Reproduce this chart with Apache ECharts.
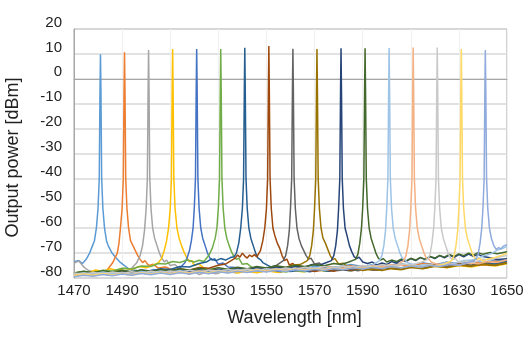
<!DOCTYPE html>
<html><head><meta charset="utf-8">
<script src="https://cdn.jsdelivr.net/npm/echarts@6/dist/echarts.min.js"></script>
<style>html,body{margin:0;padding:0;background:#fff}#c{width:526px;height:346px}</style>
</head><body><div id="c"></div>
<script>
const xTicks = [1470,1490,1510,1530,1550,1570,1590,1610,1630,1650];
const yTicks = [-80,-70,-60,-50,-40,-30,-20,-10,0,10,20];
const colors = ['#5B9BD5','#ED7D31','#A5A5A5','#FFC000','#4472C4','#70AD47','#255E91','#9E480E','#636363','#997300','#264478','#43682B','#9DC3E6','#F4B183','#C9C9C9','#FFD966','#8FAADC'];

const s1481 = [[1470,-73.5],[1472,-73],[1473.5,-74.2],[1475,-72.6],[1476.5,-70],[1477.5,-67.5],[1478.5,-65],[1479.3,-60],[1480,-52],[1480.5,-40],[1480.8,-5],[1481,9.9],[1481.2,-5],[1481.5,-40],[1482,-52],[1482.7,-60],[1483.5,-65],[1484.2,-67],[1485,-68.5],[1485.8,-70],[1486.5,-69.5],[1487.5,-72],[1489,-73.5],[1491,-75],[1493,-76.5],[1496,-77],[1500,-77.8],[1503,-76.6],[1506,-77.5],[1509,-76.8],[1512,-78],[1515,-77],[1518,-77.8],[1521,-76.7],[1525,-77.4],[1530,-76.5],[1535,-77.2],[1540,-76.3],[1545,-77],[1550,-75.8],[1555,-76.6],[1560,-75.9],[1565,-76.5],[1570,-75.3],[1575,-76.1],[1580,-75.5],[1585,-74.6],[1590,-75.4],[1595,-74.5],[1600,-75.2],[1605,-74.2],[1610,-74.9],[1615,-73.9],[1620,-74.7],[1625,-73.6],[1630,-74.3],[1635,-73.2],[1640,-73.8],[1645,-72.8],[1650,-73.2]];
const s1491 = [[1470,-78.5],[1473,-77.6],[1476,-78.3],[1479,-77.2],[1482,-77.9],[1484,-76.5],[1486,-74],[1487,-72],[1488,-70],[1488.7,-66],[1489.3,-60],[1490,-52],[1490.5,-40],[1490.8,-5],[1491,10.7],[1491.2,-5],[1491.5,-40],[1492,-52],[1492.7,-60],[1493.5,-65],[1494.5,-67],[1495.5,-69],[1496.5,-71],[1497.5,-72.5],[1498.5,-73.8],[1499.5,-73],[1501,-75],[1503,-74.5],[1505,-76],[1508,-75.6],[1511,-76.8],[1514,-76.2],[1517,-77.3],[1520,-76.6],[1524,-77.5],[1528,-76.8],[1532,-77.4],[1536,-76.4],[1540,-77],[1545,-76.2],[1550,-76.9],[1555,-75.9],[1560,-76.5],[1565,-75.7],[1570,-76.3],[1575,-75.4],[1580,-76],[1585,-75.1],[1590,-75.7],[1595,-74.8],[1600,-75.5],[1605,-74.6],[1610,-75.1],[1615,-74.2],[1620,-74.8],[1625,-73.9],[1630,-74.6],[1635,-73.7],[1640,-74.2],[1645,-73.3],[1650,-73.6]];
const s1501 = [[1470,-74],[1472,-73.2],[1474,-75.5],[1476,-77],[1479,-77.8],[1482,-77],[1485,-78],[1488,-77.2],[1491,-77.6],[1494,-76],[1496,-74],[1497.5,-71],[1498.5,-67],[1499.3,-61],[1500,-52],[1500.5,-40],[1500.8,-5],[1501,11.6],[1501.2,-5],[1501.5,-40],[1502,-52],[1502.7,-60],[1503.5,-64],[1504.5,-67],[1505.5,-70],[1506.5,-72],[1507.5,-73.5],[1508.5,-72.8],[1510,-75],[1512,-74.6],[1514,-76.5],[1516,-77.5],[1518,-78.5],[1520,-77.4],[1522,-78.6],[1525,-77.6],[1529,-78.3],[1533,-77.2],[1537,-77.9],[1541,-77],[1545,-77.8],[1550,-76.8],[1555,-77.5],[1560,-76.6],[1565,-77.2],[1570,-76.3],[1575,-77],[1580,-76.1],[1585,-76.8],[1590,-75.8],[1595,-76.4],[1600,-75.6],[1605,-76.2],[1610,-75.2],[1615,-75.8],[1620,-74.8],[1625,-75.4],[1630,-74.6],[1635,-75.2],[1640,-74.2],[1645,-74.8],[1650,-73.8]];
const s1511 = [[1470,-78.5],[1473,-77.6],[1476,-77.9],[1479,-76.8],[1482,-77.4],[1485,-76.3],[1488,-77],[1491,-76.1],[1494,-76.6],[1497,-75.4],[1500,-75.9],[1503,-74.8],[1505,-74],[1506.5,-72],[1507.5,-69],[1508.5,-65],[1509.3,-60],[1510,-52],[1510.5,-40],[1510.8,-5],[1511,12],[1511.2,-5],[1511.5,-40],[1512,-52],[1512.8,-60],[1513.7,-64],[1514.7,-67],[1515.7,-69.5],[1516.7,-71.5],[1518,-73.5],[1519,-73],[1520,-75],[1522,-74.4],[1524,-76],[1527,-76.6],[1530,-77.6],[1534,-76.9],[1538,-78],[1542,-77.2],[1546,-77.9],[1550,-77.1],[1555,-77.8],[1560,-76.9],[1565,-77.5],[1570,-76.7],[1575,-77.3],[1580,-76.5],[1585,-77.1],[1590,-76.2],[1595,-76.9],[1600,-76],[1605,-76.6],[1610,-75.6],[1615,-76.2],[1620,-75.3],[1625,-75.9],[1630,-75],[1635,-75.6],[1640,-74.7],[1645,-75.2],[1650,-74.3]];
const s1521 = [[1470,-79],[1473,-78.2],[1476,-78.8],[1480,-78.1],[1484,-78.7],[1488,-77.9],[1492,-78.5],[1496,-77.6],[1500,-78.2],[1503,-77.1],[1506,-77.7],[1509,-76.6],[1512,-77],[1514,-76],[1516,-74],[1517,-72],[1518,-69],[1518.8,-65],[1519.5,-60],[1520,-52],[1520.5,-40],[1520.8,-5],[1521,12],[1521.2,-5],[1521.5,-40],[1522,-52],[1522.7,-60],[1523.5,-64],[1524.5,-67],[1525.5,-70],[1526.5,-72],[1527.5,-72.8],[1528.5,-72.2],[1530,-74.5],[1532,-74],[1534,-75.6],[1537,-75.8],[1540,-76.9],[1544,-76.3],[1548,-77.4],[1552,-76.7],[1556,-77.5],[1560,-76.8],[1565,-77.3],[1570,-76.5],[1575,-77.1],[1580,-76.2],[1585,-76.9],[1590,-76],[1595,-76.6],[1600,-75.7],[1605,-76.2],[1610,-75.3],[1615,-75.9],[1620,-75],[1625,-75.6],[1630,-74.6],[1635,-75.2],[1640,-74.3],[1645,-74.8],[1650,-73.8]];
const s1531 = [[1470,-78],[1474,-77.4],[1478,-77.9],[1482,-76.9],[1486,-77.2],[1490,-76.1],[1494,-76.4],[1498,-75.2],[1502,-75.4],[1505,-74.2],[1508,-74.4],[1511,-73.4],[1514,-73.8],[1517,-72.8],[1520,-73.6],[1522,-72.9],[1524,-73.4],[1526,-71],[1527.5,-68],[1528.7,-64],[1529.4,-60],[1530,-52],[1530.5,-40],[1530.8,-5],[1531,12],[1531.2,-5],[1531.5,-40],[1532,-52],[1532.7,-60],[1533.5,-64],[1534.5,-67],[1535.5,-69.5],[1536.5,-71.5],[1537.5,-72.5],[1538.5,-72],[1540,-74.5],[1542,-74.2],[1544,-75.8],[1547,-76.2],[1550,-77.1],[1554,-76.6],[1558,-77.6],[1562,-76.9],[1566,-77.5],[1570,-76.7],[1575,-77.2],[1580,-76.4],[1585,-77],[1590,-76.1],[1595,-76.7],[1600,-75.8],[1605,-76.3],[1610,-75.3],[1615,-75.9],[1620,-74.9],[1625,-75.4],[1630,-74.4],[1635,-75],[1640,-74],[1645,-74.5],[1650,-73.4]];
const s1541 = [[1470,-78.5],[1474,-77.8],[1478,-78.3],[1482,-77.5],[1486,-78],[1490,-77.2],[1494,-77.7],[1498,-76.8],[1502,-77.2],[1506,-76.3],[1510,-76.6],[1514,-75.4],[1518,-75.6],[1522,-74.2],[1525,-73.6],[1527,-72.4],[1529,-73],[1531,-72.2],[1533,-72.8],[1535,-71.8],[1536.5,-71.5],[1537.5,-70],[1538.5,-66],[1539.3,-60],[1540,-52],[1540.5,-40],[1540.8,-5],[1541,12.5],[1541.2,-5],[1541.5,-40],[1542,-52],[1542.7,-60],[1543.5,-64],[1544.5,-67],[1545.5,-70],[1546.5,-72],[1547.5,-72.6],[1548.5,-73.8],[1550,-74.6],[1552,-75.6],[1554,-75.2],[1557,-76.8],[1560,-77.4],[1564,-76.8],[1568,-77.5],[1572,-76.7],[1576,-77.3],[1580,-76.6],[1585,-77.1],[1590,-76.3],[1595,-76.8],[1600,-75.9],[1605,-76.4],[1610,-75.4],[1615,-75.9],[1620,-74.9],[1625,-75.5],[1630,-74.5],[1635,-75],[1640,-74],[1645,-74.4],[1650,-73.3]];
const s1551 = [[1470,-79],[1474,-78.3],[1478,-78.8],[1482,-78],[1486,-78.5],[1490,-77.7],[1494,-78.2],[1498,-77.3],[1502,-77.8],[1506,-76.9],[1510,-77.3],[1514,-76.4],[1518,-76.8],[1522,-75.8],[1526,-76.1],[1530,-74.9],[1533,-74.4],[1535,-73.2],[1537,-72],[1538,-70.8],[1539,-71.6],[1540,-70],[1541,-71.2],[1542,-72],[1543,-70.8],[1544,-71.4],[1545,-70.6],[1546,-71.5],[1547.5,-69],[1548.5,-65],[1549.3,-60],[1550,-52],[1550.5,-40],[1550.8,-5],[1551,13.2],[1551.2,-5],[1551.5,-40],[1552,-52],[1552.7,-60],[1553.5,-63],[1554.5,-66],[1555.5,-68],[1556.5,-71],[1557.5,-73],[1558.5,-72.4],[1559.5,-74.8],[1561,-74.2],[1563,-76],[1566,-76.6],[1570,-77.4],[1574,-76.7],[1578,-77.3],[1582,-76.5],[1586,-77],[1590,-76.2],[1595,-76.8],[1600,-75.8],[1605,-76.3],[1610,-75.3],[1615,-75.8],[1620,-74.8],[1625,-75.3],[1630,-74.4],[1635,-75],[1640,-74.6],[1645,-74.9],[1650,-74]];
const s1561 = [[1470,-78],[1474,-78.6],[1478,-77.9],[1482,-78.5],[1486,-77.6],[1490,-78.1],[1494,-77.3],[1498,-77.8],[1502,-77],[1506,-77.9],[1510,-78.2],[1514,-77.1],[1518,-77.7],[1522,-76.8],[1526,-77.4],[1530,-76.9],[1534,-77.3],[1538,-76.4],[1542,-76.8],[1546,-75.9],[1550,-76.3],[1554,-75],[1557,-73],[1558,-71],[1558.8,-67],[1559.5,-61],[1560,-52],[1560.5,-40],[1560.8,-5],[1561,12.1],[1561.2,-5],[1561.5,-40],[1562,-52],[1562.7,-60],[1563.5,-64],[1564.5,-67],[1565.5,-69],[1566.5,-71],[1567.5,-72.4],[1568.5,-72],[1570,-74.4],[1572,-74],[1574,-75.7],[1577,-76.2],[1580,-77],[1584,-76.3],[1588,-77.1],[1592,-76.2],[1596,-76.8],[1600,-75.9],[1605,-76.4],[1610,-75.4],[1615,-76],[1620,-75],[1625,-75.5],[1630,-74.6],[1635,-75.1],[1640,-74.3],[1645,-74.7],[1650,-73.9]];
const s1571 = [[1470,-78.5],[1474,-77.8],[1478,-78.3],[1482,-77.6],[1486,-78.4],[1490,-77.7],[1494,-78.5],[1498,-77.5],[1502,-78],[1506,-77.2],[1510,-77.7],[1514,-77],[1518,-77.9],[1522,-77.1],[1526,-77.5],[1530,-76.7],[1534,-77.2],[1538,-76.4],[1542,-77],[1546,-76.2],[1550,-76.6],[1554,-75.6],[1558,-75.9],[1561,-74.8],[1564,-74.6],[1567,-73],[1568,-71],[1568.8,-67],[1569.5,-61],[1570,-52],[1570.5,-40],[1570.8,-5],[1571,12],[1571.2,-5],[1571.5,-40],[1572,-52],[1572.7,-60],[1573.5,-64],[1574.5,-66],[1575.5,-68.5],[1576.5,-71],[1577.5,-72.6],[1578.5,-72.2],[1580,-74.4],[1582,-74.1],[1584,-75.8],[1587,-76.1],[1590,-77],[1594,-76.4],[1598,-77],[1602,-76.2],[1606,-76.7],[1610,-75.8],[1615,-76.3],[1620,-75.3],[1625,-75.8],[1630,-74.9],[1635,-75.3],[1640,-74.4],[1645,-74.9],[1650,-73.9]];
const s1581 = [[1470,-79],[1474,-78.3],[1478,-78.8],[1482,-78],[1486,-78.6],[1490,-77.9],[1494,-78.4],[1498,-77.6],[1502,-78.1],[1506,-77.3],[1510,-77.8],[1514,-77],[1518,-77.5],[1522,-76.8],[1526,-77.3],[1530,-76.6],[1534,-77.1],[1538,-76.2],[1542,-76.7],[1546,-75.9],[1550,-76.4],[1554,-75.7],[1558,-76.2],[1562,-75.4],[1566,-75.7],[1569,-74.6],[1572,-74.9],[1575,-73.8],[1577,-73],[1578,-71],[1578.8,-67],[1579.5,-61],[1580,-52],[1580.5,-40],[1580.8,-5],[1581,12.3],[1581.2,-5],[1581.5,-40],[1582,-52],[1582.7,-60],[1583.5,-63],[1584.5,-67],[1585.5,-69.5],[1586.5,-71.5],[1587.5,-72.2],[1588.5,-71.6],[1590,-73.6],[1592,-74.2],[1594,-73.6],[1596,-74.8],[1598,-74],[1600,-74.6],[1602,-73.4],[1604,-74],[1606,-72.8],[1608,-73.4],[1610,-72.2],[1612,-73],[1614,-71.8],[1616,-72.6],[1618,-71.4],[1620,-72.2],[1622,-71],[1624,-71.9],[1626,-70.8],[1628,-71.7],[1630,-70.6],[1632,-71.5],[1634,-70.4],[1636,-71.3],[1638,-70.5],[1640,-71.4],[1643,-71.9],[1646,-72.6],[1650,-72.3]];
const s1591 = [[1470,-78],[1474,-77.3],[1478,-77.9],[1482,-77.1],[1486,-77.7],[1490,-76.9],[1494,-77.6],[1498,-76.8],[1502,-77.5],[1506,-76.6],[1510,-77.1],[1514,-76.3],[1518,-76.9],[1522,-76.1],[1526,-76.7],[1530,-75.9],[1534,-76.5],[1538,-75.7],[1542,-76.3],[1546,-75.4],[1550,-76],[1554,-75.1],[1558,-75.7],[1562,-74.9],[1566,-75.4],[1570,-74.6],[1574,-75.1],[1578,-74.2],[1581,-74.6],[1584,-73.7],[1587,-72.5],[1588,-70.5],[1588.8,-66],[1589.5,-60],[1590,-52],[1590.5,-40],[1590.8,-5],[1591,12.3],[1591.2,-5],[1591.5,-40],[1592,-52],[1592.7,-60],[1593.5,-64],[1594.5,-67],[1595.5,-70],[1596.5,-72],[1597.5,-72.8],[1598.5,-72.2],[1600,-73.6],[1602,-72.8],[1604,-73.4],[1606,-72.4],[1608,-73.1],[1610,-72.1],[1612,-72.8],[1614,-71.7],[1616,-72.5],[1618,-71.3],[1620,-72],[1622,-70.9],[1624,-71.6],[1626,-70.5],[1628,-71.3],[1630,-70.3],[1632,-71],[1634,-70],[1636,-70.8],[1638,-69.8],[1640,-70.5],[1643,-69.8],[1646,-70.3],[1650,-69.5]];
const s1601 = [[1470,-78.5],[1474,-77.9],[1478,-78.4],[1482,-77.6],[1486,-78.3],[1490,-77.8],[1494,-78.4],[1498,-77.4],[1502,-78],[1506,-77.2],[1510,-77.8],[1514,-77],[1518,-77.9],[1522,-77.2],[1526,-77.7],[1530,-76.9],[1534,-77.4],[1538,-76.6],[1542,-77.2],[1546,-76.4],[1550,-77],[1554,-76.2],[1558,-76.8],[1562,-76],[1566,-76.6],[1570,-75.8],[1574,-76.4],[1578,-75.6],[1582,-76.2],[1586,-75.3],[1590,-75.8],[1594,-74.8],[1597,-73],[1598,-71],[1598.8,-67],[1599.5,-61],[1600,-52],[1600.5,-40],[1600.8,-5],[1601,12.4],[1601.2,-5],[1601.5,-40],[1602,-52],[1602.7,-60],[1603.5,-64],[1604.5,-67],[1605.5,-70],[1606.5,-72],[1607.5,-72.6],[1608.5,-73.8],[1610,-74.3],[1613,-75.2],[1616,-74.6],[1620,-75.1],[1624,-74],[1628,-74.2],[1632,-73],[1636,-72.8],[1640,-71.2],[1643,-70.4],[1646,-68.8],[1648,-68.2],[1650,-67.3]];
const s1611 = [[1470,-79],[1474,-78.5],[1478,-79],[1482,-78.3],[1486,-78.8],[1490,-78.1],[1494,-78.7],[1498,-77.9],[1502,-78.5],[1506,-77.7],[1510,-78.2],[1514,-77.4],[1518,-78],[1522,-77.2],[1526,-77.9],[1530,-77.3],[1534,-77.8],[1538,-76.9],[1542,-77.5],[1546,-76.7],[1550,-77.2],[1554,-76.4],[1558,-77],[1562,-76.3],[1566,-76.9],[1570,-76.1],[1574,-76.7],[1578,-75.8],[1582,-76.4],[1586,-75.6],[1590,-76.1],[1594,-75.2],[1598,-75.6],[1601,-74.7],[1604,-75],[1607,-73],[1608,-71],[1608.8,-67],[1609.5,-61],[1610,-52],[1610.5,-40],[1610.8,-5],[1611,12.6],[1611.2,-5],[1611.5,-40],[1612,-52],[1612.7,-60],[1613.5,-64],[1614.5,-67],[1615.5,-70],[1616.5,-72],[1617.5,-72.4],[1618.5,-73.6],[1620,-74.2],[1623,-75.1],[1626,-74.4],[1630,-74.9],[1634,-73.9],[1638,-74.3],[1642,-73.4],[1646,-73.7],[1650,-72.8]];
const s1621 = [[1470,-78],[1474,-78.6],[1478,-77.8],[1482,-78.4],[1486,-77.6],[1490,-78.2],[1494,-77.5],[1498,-78.1],[1502,-77.3],[1506,-77.9],[1510,-77.2],[1514,-77.7],[1518,-76.9],[1522,-77.5],[1526,-76.8],[1530,-77.3],[1534,-76.6],[1538,-77.1],[1542,-76.4],[1546,-77],[1550,-76.3],[1554,-76.8],[1558,-76],[1562,-76.5],[1566,-75.7],[1570,-76.2],[1574,-75.4],[1578,-76],[1582,-75.2],[1586,-75.8],[1590,-75],[1594,-75.5],[1598,-74.7],[1602,-75.2],[1606,-74.4],[1610,-74.8],[1614,-73.8],[1617,-72.5],[1618,-70.5],[1618.8,-66],[1619.5,-60],[1620,-52],[1620.5,-40],[1620.8,-5],[1621,12.6],[1621.2,-5],[1621.5,-40],[1622,-52],[1622.7,-60],[1623.5,-64],[1624.5,-67],[1625.5,-70],[1626.5,-72],[1627.5,-72.6],[1628.5,-72.2],[1630,-73.8],[1633,-73.2],[1636,-73.8],[1640,-72.5],[1643,-72.8],[1646,-71.7],[1650,-71]];
const s1631 = [[1470,-79],[1474,-78.4],[1478,-78.9],[1482,-78.2],[1486,-78.8],[1490,-78.3],[1494,-78.9],[1498,-78],[1502,-78.5],[1506,-77.8],[1510,-78.4],[1514,-77.7],[1518,-78.2],[1522,-77.5],[1526,-78],[1530,-77.3],[1534,-77.9],[1538,-77.1],[1542,-77.6],[1546,-76.8],[1550,-77.4],[1554,-76.6],[1558,-77.2],[1562,-76.5],[1566,-77],[1570,-76.3],[1574,-76.9],[1578,-76.1],[1582,-76.6],[1586,-75.8],[1590,-76.3],[1594,-75.5],[1598,-76.1],[1602,-75.4],[1606,-75.9],[1610,-75.1],[1614,-75.7],[1618,-74.8],[1621,-75.2],[1624,-74.4],[1627,-73],[1628,-71],[1628.8,-67],[1629.5,-61],[1630,-52],[1630.5,-40],[1630.8,-5],[1631,12],[1631.2,-5],[1631.5,-40],[1632,-52],[1632.7,-60],[1633.5,-64],[1634.5,-67],[1635.5,-70],[1636.5,-72],[1637.5,-72.6],[1638.5,-72],[1640,-73.2],[1642,-72.4],[1645,-71.8],[1648,-70.8],[1650,-70]];
const s1641 = [[1470,-79.5],[1474,-78.9],[1478,-79.3],[1482,-78.6],[1486,-79.1],[1490,-78.4],[1494,-78.9],[1498,-78.2],[1502,-78.7],[1506,-78],[1510,-78.6],[1514,-77.9],[1518,-78.4],[1522,-77.7],[1526,-78.3],[1530,-77.5],[1534,-78],[1538,-77.3],[1542,-77.8],[1546,-77.1],[1550,-77.6],[1554,-76.9],[1558,-77.4],[1562,-76.7],[1566,-77.2],[1570,-76.5],[1574,-77],[1578,-76.2],[1582,-76.7],[1586,-75.9],[1590,-76.4],[1594,-75.7],[1598,-76.2],[1602,-75.4],[1606,-75.9],[1610,-75.2],[1614,-75.7],[1618,-74.9],[1622,-75.4],[1626,-74.6],[1630,-74.9],[1634,-73.8],[1637,-72.5],[1638,-70.5],[1638.8,-66],[1639.5,-60],[1640,-52],[1640.5,-40],[1640.8,-5],[1641,11.6],[1641.2,-5],[1641.5,-40],[1642,-52],[1642.7,-60],[1643.5,-64],[1644.5,-67],[1645.5,-68.5],[1646.5,-67.8],[1647.5,-68.3],[1648.5,-67.2],[1650,-66.6]];

const allSeries = [s1481,s1491,s1501,s1511,s1521,s1531,s1541,s1551,s1561,s1571,s1581,s1591,s1601,s1611,s1621,s1631,s1641];

const FONT = '"Liberation Sans", Arial, sans-serif';
const chart = echarts.init(document.getElementById('c'), null, {renderer:'canvas'});
chart.setOption({
  animation: false,
  grid: {left:74, right:19, top:29, bottom:68, containLabel:false, outerBoundsMode:'none', show:true, borderColor:'#a6a6a6', borderWidth:1},
  xAxis: {
    type:'value', min:xTicks[0], max:xTicks[xTicks.length-1], interval:20,
    name:'Wavelength [nm]', nameLocation:'middle', nameGap:31,
    nameTextStyle:{fontFamily:FONT, fontSize:18, color:'#222', padding:[0,0,0,8]},
    axisLine:{show:true, lineStyle:{color:'#a6a6a6', width:1}},
    axisTick:{show:false},
    axisLabel:{fontFamily:FONT, fontSize:15, color:'#222', margin:5, formatter:v=>String(v)},
    splitLine:{show:true, lineStyle:{color:'#f0f0f0', width:1}}
  },
  yAxis: {
    type:'value', min:yTicks[0], max:yTicks[yTicks.length-1], interval:10,
    name:'Output power [dBm]', nameLocation:'middle', nameGap:52,
    nameTextStyle:{fontFamily:FONT, fontSize:18, color:'#222', padding:[0,8,0,0]},
    axisLine:{show:true, lineStyle:{color:'#a6a6a6', width:1}},
    axisTick:{show:false},
    axisLabel:{fontFamily:FONT, fontSize:15, color:'#222', margin:12, verticalAlign:'bottom', lineHeight:13, formatter:v=>String(v)},
    splitLine:{show:true, lineStyle:{color:'#d9d9d9', width:1.5}}
  },
  series: allSeries.map((d,i)=>({
    type:'line', data:d, showSymbol:false, symbol:'none', smooth:false,
    lineStyle:{color:colors[i], width:1.5}, itemStyle:{color:colors[i]},
    silent:true, z:2+i
  }))
});
</script></body></html>
